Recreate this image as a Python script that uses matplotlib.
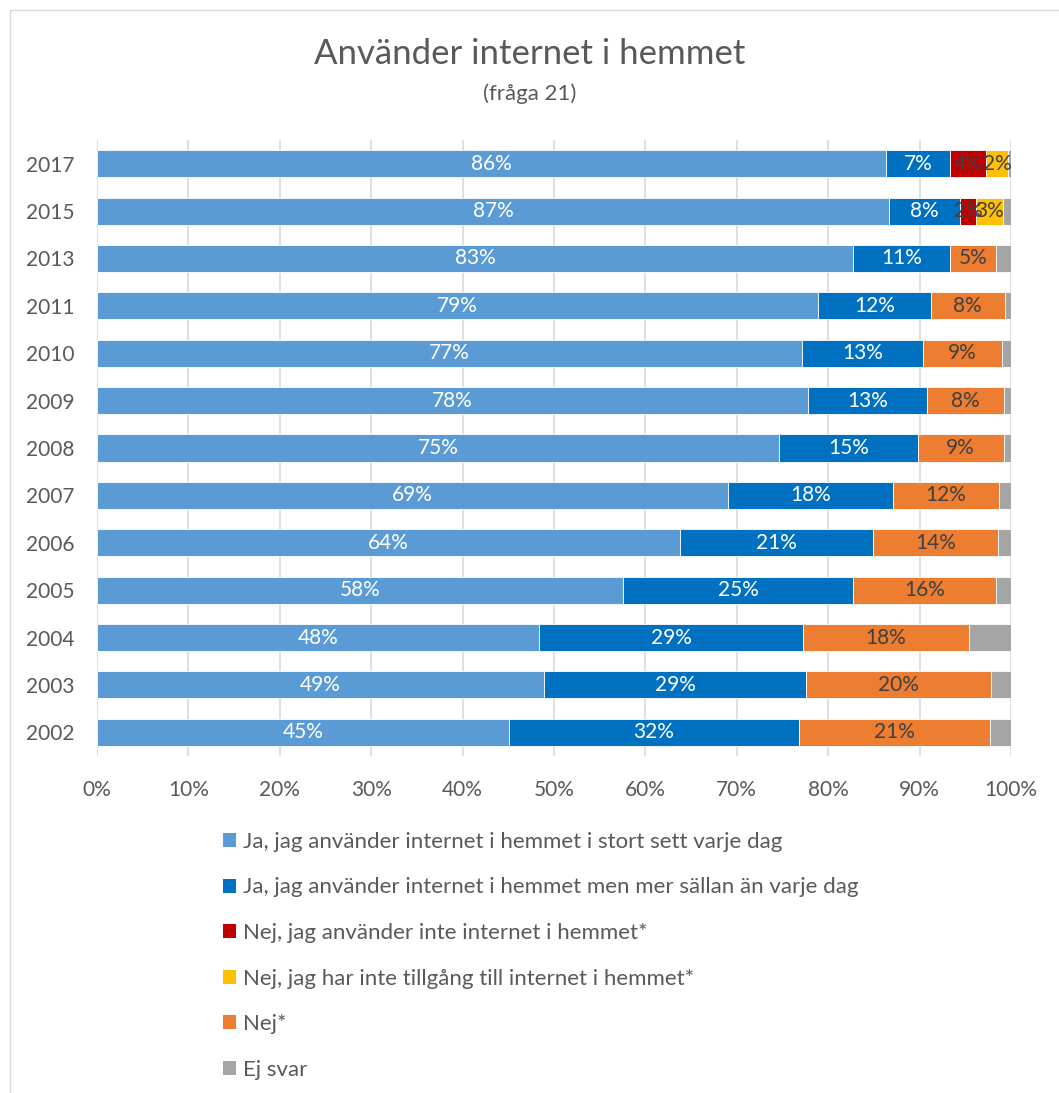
import numpy as np
import matplotlib
matplotlib.use("Agg")
import matplotlib.pyplot as plt
from matplotlib.patches import Rectangle, Patch

plt.rcParams['font.family'] = ['Lato', 'DejaVu Sans']

# data (percent), top to bottom
years = ['2017', '2015', '2013', '2011', '2010', '2009', '2008', '2007',
         '2006', '2005', '2004', '2003', '2002']
ja_daglig = [86.3, 86.7, 82.7, 78.9, 77.1, 77.8, 74.6, 69.0, 63.8, 57.6, 48.4, 48.9, 45.1]
ja_sallan = [7.0, 7.7, 10.6, 12.3, 13.3, 13.0, 15.2, 18.1, 21.1, 25.1, 28.8, 28.7, 31.7]
nej_anv = [4.0, 1.8, 0, 0, 0, 0, 0, 0, 0, 0, 0, 0, 0]
nej_tillg = [2.4, 2.9, 0, 0, 0, 0, 0, 0, 0, 0, 0, 0, 0]
nej = [0, 0, 5.1, 8.1, 8.6, 8.4, 9.4, 11.6, 13.7, 15.7, 18.2, 20.2, 20.9]
ej_svar = [0.3, 0.9, 1.6, 0.7, 1.0, 0.8, 0.8, 1.3, 1.4, 1.6, 4.6, 2.2, 2.3]

series = [
    ('Ja, jag använder internet i hemmet i stort sett varje dag', ja_daglig, '#5B9BD5', 'white'),
    ('Ja, jag använder internet i hemmet men mer sällan än varje dag', ja_sallan, '#0070C0', 'white'),
    ('Nej, jag använder inte internet i hemmet*', nej_anv, '#C00000', '#404040'),
    ('Nej, jag har inte tillgång till internet i hemmet*', nej_tillg, '#FFC000', '#404040'),
    ('Nej*', nej, '#ED7D31', '#404040'),
    ('Ej svar', ej_svar, '#A5A5A5', None),
]

fig = plt.figure(figsize=(10.59, 10.93), dpi=100)
ax = fig.add_axes([97/1059, 1 - 756/1093, (1011-97)/1059, (756-140)/1093])

y = np.arange(len(years))
left = np.zeros(len(years))
for name, vals, color, tcol in series:
    vals = np.array(vals, dtype=float)
    ax.barh(y, vals, left=left, height=0.57, color=color, edgecolor='white',
            linewidth=0.6, label=name, zorder=2)
    if tcol is not None:
        for yi, (l, v) in enumerate(zip(left, vals)):
            if v > 0:
                ax.text(l + v/2, yi, f"{round(v)}%", ha='center', va='center',
                        fontsize=15, color=tcol, zorder=3)
    left += vals

ax.set_xlim(0, 100)
ax.set_ylim(len(years) - 0.5, -0.5)
ax.set_yticks(y)
ax.set_yticklabels(years)
ax.set_xticks(np.arange(0, 101, 10))
ax.set_xticklabels([f"{t}%" for t in range(0, 101, 10)])
ax.tick_params(axis='both', length=0, labelsize=15, colors='#595959')
ax.tick_params(axis='x', pad=17)
ax.tick_params(axis='y', pad=16)
ax.xaxis.grid(True, color='#D9D9D9', linewidth=1.2, zorder=0)
ax.set_axisbelow(True)
for s in ax.spines.values():
    s.set_visible(False)

fig.text(0.5, 1 - 54/1093, 'Använder internet i hemmet',
         ha='center', va='center', fontsize=25, color='#595959')
fig.text(0.5, 1 - 94/1093, '(fråga 21)', ha='center', va='center',
         fontsize=16, color='#595959')

handles = [Patch(facecolor=c, edgecolor='none') for _, _, c, _ in series]
labels = [n for n, _, _, _ in series]
fig.legend(handles, labels, loc='upper left', bbox_to_anchor=(214/1059, 1 - 823/1093),
           frameon=False, fontsize=16, labelcolor='#595959', handlelength=0.6,
           handleheight=0.6, handletextpad=0.3, labelspacing=1.15, borderaxespad=0)

fig.patches.append(Rectangle((10/1059, -0.01), 1.1, 1 - 10/1093 + 0.01,
                             transform=fig.transFigure, fill=False,
                             edgecolor='#D9D9D9', linewidth=1))

fig.savefig('out.png', dpi=100)
